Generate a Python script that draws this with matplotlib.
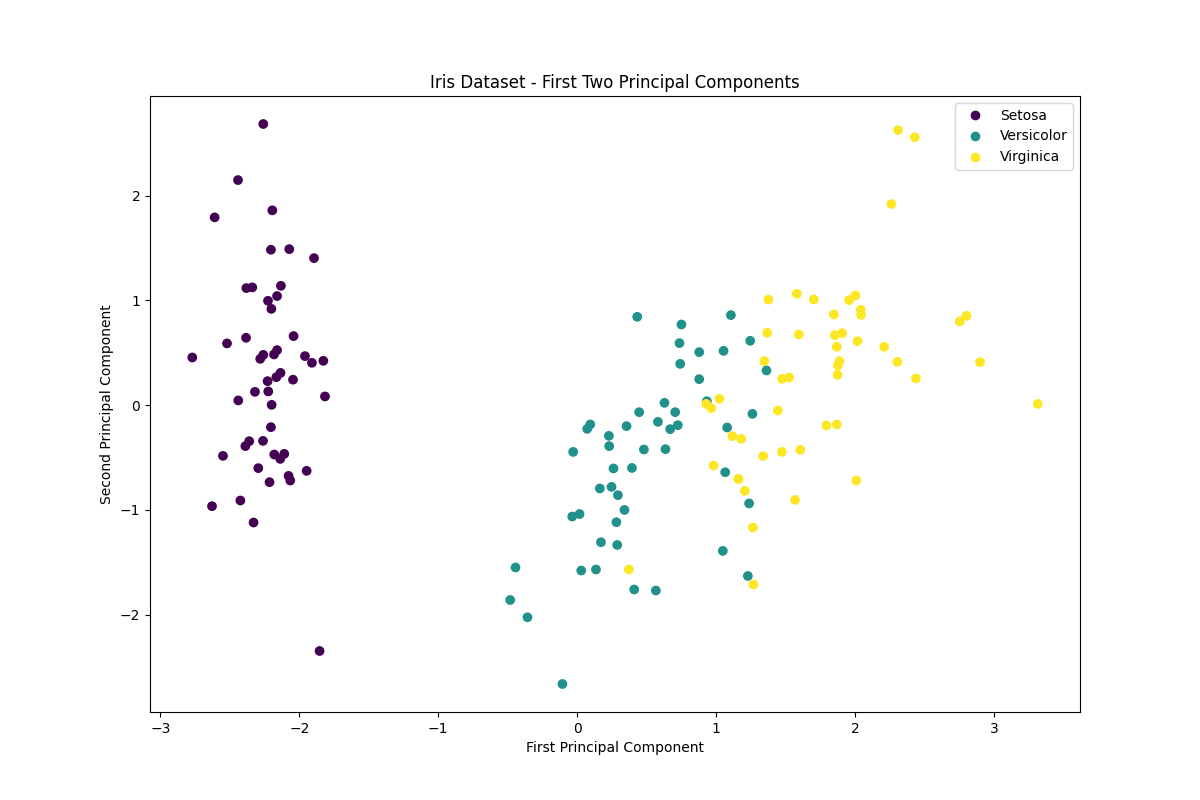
import numpy as np
import matplotlib
matplotlib.use("Agg")
import matplotlib.pyplot as plt

# PC coordinates, one list per species
setosa_pc1 = [-2.259, -2.441, -2.194, -2.609, -2.204, -2.072, -1.894, -2.381, -2.338, -2.132,
              -2.160, -2.225, -2.201, -2.520, -2.383, -2.041, -2.770, -2.259, -2.281, -2.160,
              -2.182, -1.959, -1.909, -1.827, -2.135, -2.165, -2.228, -2.045, -2.319, -2.223,
              -2.439, -1.815, -2.199, -2.204, -2.360, -2.388, -2.261, -2.549, -2.180, -2.108,
              -2.137, -2.295, -1.947, -2.077, -2.065, -2.214, -2.424, -2.628, -2.329, -1.854]
setosa_pc2 = [2.683, 2.148, 1.859, 1.792, 1.483, 1.489, 1.403, 1.117, 1.124, 1.139,
              1.041, 0.996, 0.919, 0.589, 0.643, 0.659, 0.455, 0.480, 0.442, 0.525,
              0.484, 0.468, 0.404, 0.423, 0.308, 0.267, 0.229, 0.243, 0.127, 0.131,
              0.045, 0.083, 0.003, -0.210, -0.344, -0.391, -0.341, -0.484, -0.471, -0.465,
              -0.513, -0.601, -0.627, -0.675, -0.719, -0.735, -0.910, -0.964, -1.120, -2.346]

versicolor_pc1 = [0.432, 0.446, 0.581, 0.094, 0.072, 0.355, 0.228, 0.230, -0.029, 0.480,
                  0.261, 0.394, 0.163, 0.247, 0.293, 0.340, -0.036, 0.017, 0.282, 0.171,
                  0.288, -0.444, 0.029, 0.135, 0.410, 0.566, -0.482, -0.358, -0.106, 1.106,
                  0.750, 0.736, 0.878, 1.053, 1.245, 0.741, 0.878, 1.362, 0.628, 0.705,
                  0.669, 0.724, 0.933, 1.261, 1.079, 0.635, 1.065, 1.237, 1.048, 1.228]
versicolor_pc2 = [0.843, -0.067, -0.159, -0.184, -0.226, -0.200, -0.293, -0.391, -0.446, -0.423,
                  -0.604, -0.599, -0.795, -0.780, -0.859, -1.000, -1.063, -1.039, -1.117, -1.308,
                  -1.334, -1.549, -1.578, -1.568, -1.759, -1.769, -1.859, -2.024, -2.661, 0.859,
                  0.770, 0.592, 0.506, 0.518, 0.614, 0.394, 0.248, 0.331, 0.022, -0.067,
                  -0.229, -0.191, 0.038, -0.083, -0.213, -0.420, -0.640, -0.938, -1.391, -1.630]

virginica_pc1 = [0.372, 1.376, 1.367, 1.347, 1.475, 1.525, 1.024, 0.928, 0.964, 1.444,
                 1.117, 1.180, 1.338, 1.473, 0.981, 1.160, 1.206, 1.568, 1.264, 1.268,
                 1.581, 1.703, 1.957, 2.002, 2.041, 2.043, 1.847, 1.595, 1.854, 1.906,
                 2.017, 1.868, 2.209, 1.887, 1.876, 2.304, 1.873, 2.437, 1.794, 1.868,
                 1.606, 2.009, 2.309, 2.429, 2.261, 2.801, 2.753, 2.899, 3.314, 1.160]
virginica_pc2 = [-1.568, 1.007, 0.690, 0.420, 0.251, 0.264, 0.060, 0.012, -0.029, -0.051,
                 -0.296, -0.322, -0.487, -0.446, -0.576, -0.704, -0.818, -0.904, -1.168, -1.712,
                 1.063, 1.009, 1.002, 1.047, 0.910, 0.862, 0.866, 0.675, 0.668, 0.687,
                 0.611, 0.557, 0.557, 0.420, 0.379, 0.413, 0.289, 0.255, -0.194, -0.184,
                 -0.427, -0.719, 2.625, 2.556, 1.919, 0.853, 0.799, 0.410, 0.012, -0.704]

species = ['Setosa', 'Versicolor', 'Virginica']

pc1 = np.concatenate([setosa_pc1, versicolor_pc1, virginica_pc1])
pc2 = np.concatenate([setosa_pc2, versicolor_pc2, virginica_pc2])
target = np.repeat([0, 1, 2], [len(setosa_pc1), len(versicolor_pc1), len(virginica_pc1)])

fig = plt.figure(figsize=(12, 8), dpi=100)
sc = plt.scatter(pc1, pc2, c=target, cmap='viridis')
plt.xlabel('First Principal Component')
plt.ylabel('Second Principal Component')
plt.title('Iris Dataset - First Two Principal Components')
handles, _ = sc.legend_elements()
plt.legend(handles, species, loc='upper right')
plt.savefig('out.png')
